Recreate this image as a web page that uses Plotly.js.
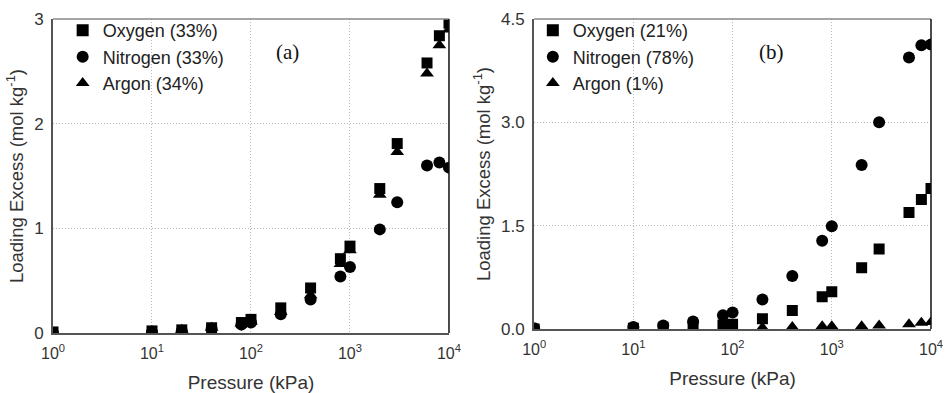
<!DOCTYPE html>
<html>
<head>
<meta charset="utf-8">
<script src="https://cdn.plot.ly/plotly-3.0.1.min.js"></script>
<style>
  html, body { margin: 0; padding: 0; background: #fff; }
  #chart { width: 945px; height: 393px; }
</style>
</head>
<body>
<div id="chart"></div>
<script>
// Pressure points (kPa), shared by both mixtures
const pressure = [1, 10, 20, 40, 80, 100, 200, 400, 800, 1000, 2000, 3000, 6000, 8000, 10000];

// (a) equimolar-ish mixture: loading excess (mol/kg)
const oxygenA   = [0.01, 0.02, 0.03, 0.05, 0.10, 0.13, 0.24, 0.43, 0.71, 0.83, 1.38, 1.81, 2.58, 2.84, 2.96];
const nitrogenA = [0.00, 0.01, 0.02, 0.04, 0.08, 0.10, 0.18, 0.32, 0.54, 0.63, 0.99, 1.25, 1.60, 1.63, 1.58];
const argonA    = [0.00, 0.02, 0.03, 0.05, 0.09, 0.11, 0.20, 0.36, 0.66, 0.79, 1.32, 1.73, 2.48, 2.75, 2.90];

// (b) air composition: loading excess (mol/kg)
const oxygenB   = [0.00, 0.01, 0.02, 0.03, 0.06, 0.07, 0.15, 0.27, 0.47, 0.54, 0.89, 1.16, 1.69, 1.88, 2.04];
const nitrogenB = [0.01, 0.03, 0.05, 0.11, 0.20, 0.24, 0.43, 0.77, 1.28, 1.49, 2.38, 3.00, 3.94, 4.12, 4.13];
const argonB    = [0.00, 0.00, 0.00, 0.01, 0.01, 0.01, 0.02, 0.03, 0.04, 0.04, 0.04, 0.05, 0.07, 0.09, 0.10];

const namesA = ['Oxygen (33%)', 'Nitrogen (33%)', 'Argon (34%)'];
const namesB = ['Oxygen (21%)', 'Nitrogen (78%)', 'Argon (1%)'];

const xTickVals = [1, 10, 100, 1000, 10000];
const xTickText = ['10<sup>0</sup>', '10<sup>1</sup>', '10<sup>2</sup>', '10<sup>3</sup>', '10<sup>4</sup>'];
const yTickValsA = [0, 1, 2, 3];
const yTickTextA = ['0', '1', '2', '3'];
const yTickValsB = [0, 1.5, 3.0, 4.5];
const yTickTextB = ['0.0', '1.5', '3.0', '4.5'];

const symbols = ['square', 'circle', 'triangle-up'];
const sizes = [11, 12, 12];

function series(y, name, i, xa, ya, legend) {
  return {
    type: 'scatter', mode: 'markers',
    x: pressure, y: y, name: name,
    xaxis: xa, yaxis: ya, legend: legend,
    marker: { symbol: symbols[i], size: sizes[i], color: '#000', line: { width: 0 } },
    cliponaxis: true
  };
}

const traces = [
  series(oxygenA,   namesA[0], 0, 'x',  'y',  'legend'),
  series(nitrogenA, namesA[1], 1, 'x',  'y',  'legend'),
  series(argonA,    namesA[2], 2, 'x',  'y',  'legend'),
  series(oxygenB,   namesB[0], 0, 'x2', 'y2', 'legend2'),
  series(nitrogenB, namesB[1], 1, 'x2', 'y2', 'legend2'),
  series(argonB,    namesB[2], 2, 'x2', 'y2', 'legend2')
];

const font = 'Liberation Sans, Arial, sans-serif';
const gridStyle = { showgrid: true, gridcolor: '#b8b8b8', griddash: '1px,2px', gridwidth: 1 };

function xAxis(domain, anchor) {
  return Object.assign({
    type: 'log', range: [0, 4], domain: domain, anchor: anchor,
    tickmode: 'array', tickvals: xTickVals, ticktext: xTickText,
    ticks: '', showline: true, linecolor: '#555', linewidth: 2,
    ticklabelstandoff: 5,
    zeroline: false, tickfont: { family: font, size: 16, color: '#333' },
    title: { text: 'Pressure (kPa)', font: { family: font, size: 19, color: '#333' }, standoff: 14 }
  }, gridStyle);
}

function yAxis(domain, anchor, range, vals, text) {
  return Object.assign({
    range: range, domain: domain, anchor: anchor,
    tickmode: 'array', tickvals: vals, ticktext: text,
    ticks: '', showline: true, linecolor: '#555', linewidth: 2,
    ticklabelstandoff: 4,
    zeroline: false, tickfont: { family: font, size: 17, color: '#333' },
    title: { text: 'Loading Excess (mol kg<sup>-1</sup>)', font: { family: font, size: 18.5, color: '#333' }, standoff: 6 }
  }, gridStyle);
}

// Frame: light top edge and dark right edge of each panel
function frame(xr, yr) {
  return [
    { type: 'line', xref: xr + ' domain', yref: yr + ' domain', x0: 0, x1: 1, y0: 1, y1: 1, line: { color: '#888', width: 1.5 } },
    { type: 'line', xref: xr + ' domain', yref: yr + ' domain', x0: 1, x1: 1, y0: 0, y1: 1, line: { color: '#111', width: 1.5 } }
  ];
}

const legendStyle = {
  xanchor: 'left', yanchor: 'top', bgcolor: 'rgba(0,0,0,0)',
  font: { family: font, size: 18, color: '#222' }, tracegroupgap: 0, itemsizing: 'constant'
};

const layout = {
  width: 945, height: 393,
  margin: { l: 53, r: 14, t: 19, b: 60 },
  paper_bgcolor: '#fff', plot_bgcolor: '#fff',
  showlegend: true,
  xaxis: xAxis([0, 0.451], 'y'),
  yaxis: yAxis([0, 1], 'x', [0, 3], yTickValsA, yTickTextA),
  xaxis2: xAxis([0.548, 1], 'y2'),
  yaxis2: yAxis([0.0127, 1], 'x2', [0, 4.5], yTickValsB, yTickTextB),
  legend: Object.assign({ x: 0.011, y: 1.022 }, legendStyle),
  legend2: Object.assign({ x: 0.5465, y: 1.022 }, legendStyle),
  shapes: frame('x', 'y').concat(frame('x2', 'y2')),
  annotations: [
    { text: '(a)', xref: 'x domain', yref: 'y domain', x: 0.593, y: 0.895, showarrow: false,
      xanchor: 'center', yanchor: 'middle',
      font: { family: 'Liberation Serif, DejaVu Serif, serif', size: 21, color: '#111' } },
    { text: '(b)', xref: 'x2 domain', yref: 'y2 domain', x: 0.597, y: 0.895, showarrow: false,
      xanchor: 'center', yanchor: 'middle',
      font: { family: 'Liberation Serif, DejaVu Serif, serif', size: 21, color: '#111' } }
  ]
};

Plotly.newPlot('chart', traces, layout, { displayModeBar: false, staticPlot: true });
</script>
</body>
</html>
